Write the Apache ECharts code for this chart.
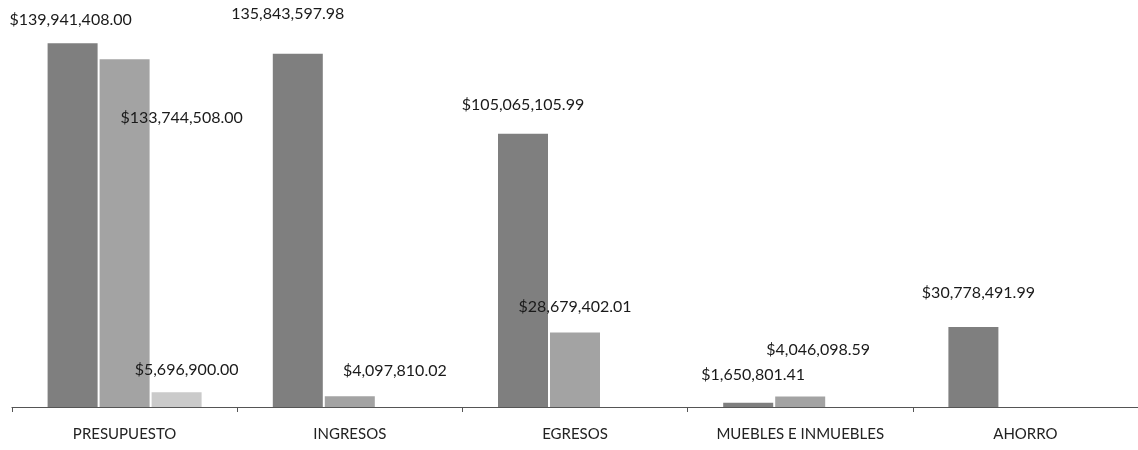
<!DOCTYPE html>
<html>
<head>
<meta charset="utf-8">
<script src="https://cdn.jsdelivr.net/npm/echarts@6/dist/echarts.min.js"></script>
<style>
  html, body { margin: 0; padding: 0; background: #fff; }
  #chart { width: 1138px; height: 450px; }
</style>
</head>
<body>
<div id="chart"></div>
<script>
var categories = ['PRESUPUESTO', 'INGRESOS', 'EGRESOS', 'MUEBLES E INMUEBLES', 'AHORRO'];

var serie1 = [139941408.00, 135843597.98, 105065105.99, 1650801.41, 30778491.99];
var serie2 = [133744508.00, 4097810.02, 28679402.01, 4046098.59, null];
var serie3 = [5696900.00, null, null, null, null];

// texto tal como aparece en el grafico (el de ingresos no lleva $)
var labels1 = ['$139,941,408.00', '135,843,597.98', '$105,065,105.99', '$1,650,801.41', '$30,778,491.99'];
var labels2 = ['$133,744,508.00', '$4,097,810.02', '$28,679,402.01', '$4,046,098.59', ''];
var labels3 = ['$5,696,900.00', '', '', '', ''];

// desplazamientos de etiquetas (movidas a mano en el original)
var offs1 = [[-2, -10], [-10, -27], [0, -16], [5, -15], [5, -21]];
var offs2 = [[57, 72], [45, -13], [0, -13], [18, -34], [0, 0]];
var offs3 = [[10, -9], [0, 0], [0, 0], [0, 0], [0, 0]];

function buildData(vals, texts, offs) {
  return vals.map(function (v, i) {
    return {
      value: v,
      label: { offset: offs[i], formatter: texts[i] }
    };
  });
}

var labelStyle = {
  show: true,
  position: 'top',
  fontFamily: 'Lato',
  fontSize: 16,
  color: '#1a1a1a'
};

var option = {
  animation: false,
  grid: { left: 12, right: 0, top: 17, bottom: 43 },
  xAxis: {
    type: 'category',
    data: categories,
    axisLine: { lineStyle: { color: '#555', width: 1.2 } },
    axisTick: { show: true, length: 5, lineStyle: { color: '#555' } },
    axisLabel: { color: '#222', fontFamily: 'Lato', fontSize: 15, margin: 20 }
  },
  yAxis: {
    type: 'value',
    min: 0,
    max: 150000000,
    show: false,
    splitLine: { show: false }
  },
  series: [
    {
      name: 'Serie 1', type: 'bar', barWidth: 50, barGap: '4%',
      itemStyle: { color: '#7f7f7f' },
      label: labelStyle,
      data: buildData(serie1, labels1, offs1)
    },
    {
      name: 'Serie 2', type: 'bar', barWidth: 50, barGap: '4%',
      itemStyle: { color: '#a3a3a3' },
      label: labelStyle,
      data: buildData(serie2, labels2, offs2)
    },
    {
      name: 'Serie 3', type: 'bar', barWidth: 50, barGap: '4%',
      itemStyle: { color: '#cacaca' },
      label: labelStyle,
      data: buildData(serie3, labels3, offs3)
    }
  ]
};

var myChart = echarts.init(document.getElementById('chart'));
myChart.setOption(option);
</script>
</body>
</html>
